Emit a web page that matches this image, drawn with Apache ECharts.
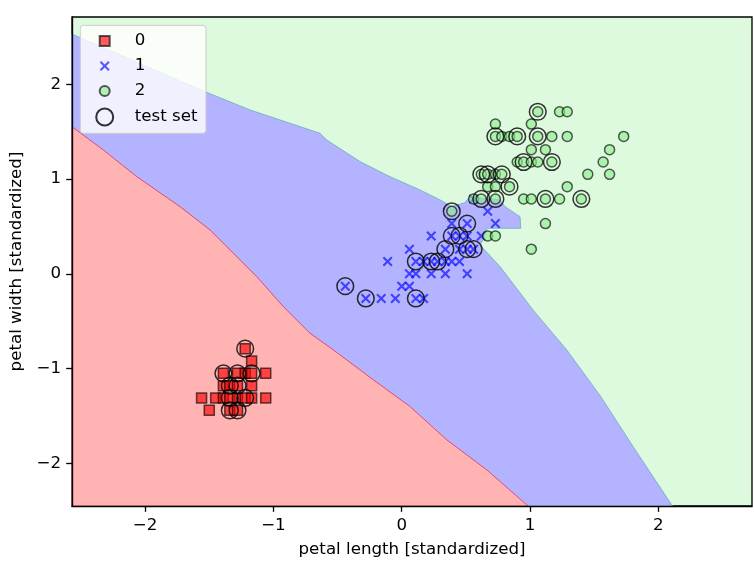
<!DOCTYPE html>
<html><head><meta charset="utf-8">
<script src="https://cdn.jsdelivr.net/npm/echarts@6/dist/echarts.min.js"></script>
<style>html,body{margin:0;padding:0;background:#fff}#c{width:754px;height:563px}</style>
</head><body><div id="c"></div>
<script>
// ---- data (standardized petal length, petal width) ----
const xTicks = [-2, -1, 0, 1, 2];
const yTicks = [-2, -1, 0, 1, 2];
const xRange = [-2.57, 2.73];
const yRange = [-2.45, 2.71];
const xName = 'petal length [standardized]';
const yName = 'petal width [standardized]';
const classNames = ['0', '1', '2'];
const testName = 'test set';

const class0 = [[-1.56,-1.31],[-1.50,-1.44],[-1.45,-1.31],[-1.39,-1.31],[-1.39,-1.18],[-1.39,-1.05],
  [-1.34,-1.44],[-1.34,-1.31],[-1.34,-1.18],[-1.28,-1.44],[-1.28,-1.31],[-1.28,-1.18],[-1.28,-1.05],
  [-1.22,-1.31],[-1.22,-1.05],[-1.22,-0.79],[-1.17,-1.31],[-1.17,-1.18],[-1.17,-1.05],[-1.17,-0.92],
  [-1.06,-1.31],[-1.06,-1.05]];
const class1 = [[-0.44,-0.13],[-0.28,-0.26],[-0.16,-0.26],[-0.11,0.13],[-0.05,-0.26],[0.00,-0.13],
  [0.06,-0.13],[0.06,0.00],[0.06,0.26],[0.11,-0.26],[0.11,0.00],[0.11,0.13],[0.17,-0.26],[0.17,0.13],
  [0.23,0.00],[0.23,0.13],[0.23,0.40],[0.28,0.13],[0.34,0.00],[0.34,0.13],[0.34,0.26],[0.39,0.13],
  [0.39,0.40],[0.39,0.53],[0.45,0.13],[0.45,0.26],[0.45,0.40],[0.51,0.00],[0.51,0.26],[0.51,0.40],
  [0.51,0.53],[0.56,0.26],[0.56,0.79],[0.62,0.40],[0.67,0.66],[0.73,0.53]];
const class2 = [[0.39,0.66],[0.56,0.79],[0.62,0.79],[0.62,1.05],[0.67,0.40],[0.67,0.92],[0.67,1.05],
  [0.73,0.40],[0.73,0.79],[0.73,0.92],[0.73,1.05],[0.73,1.45],[0.73,1.58],[0.78,1.05],[0.78,1.45],
  [0.84,0.92],[0.84,1.45],[0.90,1.18],[0.90,1.45],[0.95,0.79],[0.95,1.18],[1.01,0.26],[1.01,0.79],
  [1.01,1.18],[1.01,1.31],[1.01,1.58],[1.06,1.18],[1.06,1.45],[1.06,1.71],[1.12,0.53],[1.12,0.79],
  [1.12,1.31],[1.17,1.18],[1.17,1.45],[1.23,0.79],[1.23,1.71],[1.29,0.92],[1.29,1.45],[1.29,1.71],
  [1.40,0.79],[1.45,1.05],[1.57,1.18],[1.62,1.05],[1.62,1.31],[1.73,1.45]];
const testSet = [[-1.22,-0.79],[-1.39,-1.05],[-1.28,-1.05],[-1.17,-1.05],[-1.34,-1.18],[-1.28,-1.18],
  [-1.34,-1.31],[-1.22,-1.31],[-1.34,-1.44],[-1.28,-1.44],
  [-0.44,-0.13],[-0.28,-0.26],[0.11,-0.26],[0.11,0.13],[0.23,0.13],[0.28,0.13],[0.34,0.26],
  [0.39,0.40],[0.45,0.40],[0.51,0.53],[0.51,0.26],[0.56,0.26],
  [1.06,1.71],[0.73,1.45],[0.90,1.45],[1.06,1.45],[0.95,1.18],[1.17,1.18],[0.62,1.05],[0.67,1.05],
  [0.78,1.05],[0.84,0.92],[0.62,0.79],[0.73,0.79],[1.12,0.79],[1.40,0.79],[0.39,0.66]];

// decision regions (polygon vertices in data space)
const redRegion = [[-2.57,1.55],[-2.554,1.536],[-2.326,1.307],[-2.065,1.025],[-1.728,0.709],
  [-1.494,0.463],[-1.338,0.252],[-1.130,-0.030],[-0.923,-0.346],[-0.715,-0.627],[-0.533,-0.803],
  [-0.221,-1.119],[0.065,-1.401],[0.351,-1.752],[0.663,-2.069],[0.974,-2.438],[0.985,-2.45],[-2.57,-2.45]];
const blueRegion = [[-2.57,2.53],[-2.554,2.52],[-1.533,1.922],[-1.182,1.729],[-0.637,1.483],
  [-0.585,1.412],[-0.325,1.184],[-0.091,1.025],[0.142,0.885],[0.298,0.780],[0.39,0.71],[0.49,0.75],
  [0.53,0.81],[0.766,0.78],[0.805,0.709],[0.922,0.603],[0.928,0.481],[0.665,0.481],[0.634,0.358],
  [0.61,0.305],[0.766,0.076],[1.023,-0.381],[1.286,-0.803],[1.551,-1.295],[1.803,-1.823],
  [2.104,-2.438],[2.11,-2.45],[-2.57,-2.45]];

// ---- chart ----
const FONT = 'DejaVu Sans';
const FS = 16.67;
const minus = v => String(v).replace('-', '\u2212');
const xMark = 'path://M0,1.5L1.5,0L5,3.5L8.5,0L10,1.5L6.5,5L10,8.5L8.5,10L5,6.5L1.5,10L0,8.5L3.5,5Z';

function regionSeries(points, fill, stroke) {
  return {
    type: 'custom', silent: true, data: [[0, 0]], z: 1,
    renderItem: (params, api) => ({
      type: 'polygon',
      shape: { points: points.map(p => api.coord(p)) },
      style: { fill: fill, stroke: stroke, lineWidth: 1 }
    })
  };
}

const axisCommon = {
  type: 'value', z: 10,
  splitLine: { show: false },
  axisLine: { show: true, onZero: false, lineStyle: { color: '#000', width: 1.33 } },
  axisTick: { show: true, inside: false, length: 5.8, lineStyle: { color: '#000', width: 1.33 } },
  nameLocation: 'middle',
  nameTextStyle: { fontFamily: FONT, fontSize: FS, color: '#000' }
};

const chart = echarts.init(document.getElementById('c'), null, { renderer: 'canvas' });
chart.setOption({
  animation: false,
  backgroundColor: '#fff',
  grid: { left: 72, right: 2, top: 17, bottom: 57, show: true, backgroundColor: '#defade',
          borderColor: '#000', borderWidth: 1.33 },
  xAxis: Object.assign({}, axisCommon, {
    min: xRange[0], max: xRange[1], name: xName, nameGap: 35,
    axisTick: Object.assign({}, axisCommon.axisTick, { customValues: xTicks }),
    axisLabel: { customValues: xTicks, formatter: minus, margin: 11, fontFamily: FONT, fontSize: FS, color: '#000' }
  }),
  yAxis: Object.assign({}, axisCommon, {
    min: yRange[0], max: yRange[1], name: yName, nameGap: 39,
    axisTick: Object.assign({}, axisCommon.axisTick, { customValues: yTicks }),
    axisLabel: { customValues: yTicks, formatter: minus, margin: 11, fontFamily: FONT, fontSize: FS, color: '#000' }
  }),
  legend: [
    {
      data: [
        { name: classNames[0], icon: 'rect' },
        { name: classNames[1], icon: xMark },
        { name: classNames[2], icon: 'circle' }
      ],
      orient: 'vertical', left: 80.3, top: 25.3,
      itemWidth: 10, itemHeight: 10, itemGap: 8,
      padding: [7.2, 60.7, 33.8, 18.4],
      backgroundColor: 'rgba(255,255,255,0.8)', borderColor: '#cccccc', borderWidth: 1, borderRadius: 3,
      textStyle: { fontFamily: FONT, fontSize: FS, color: '#000', lineHeight: 17, padding: [0, 0, 0, 20] },
      selectedMode: false
    },
    {
      data: [{ name: testName, icon: 'circle' }],
      orient: 'vertical', left: 95.2, top: 107.5,
      itemWidth: 17, itemHeight: 17, padding: 0,
      textStyle: { fontFamily: FONT, fontSize: FS, color: '#000', lineHeight: 17, padding: [0, 0, 0, 16.5] },
      selectedMode: false
    }
  ],
  series: [
    regionSeries(blueRegion, '#b3b3ff', 'rgba(110,180,200,0.9)'),
    regionSeries(redRegion, '#ffb3b3', 'rgba(225,40,80,0.75)'),
    { type: 'scatter', name: classNames[0], data: class0, symbol: 'rect', symbolSize: 10, z: 3,
      itemStyle: { color: 'rgba(255,0,0,0.8)', borderColor: 'rgba(0,0,0,0.8)', borderWidth: 1.5 } },
    { type: 'scatter', name: classNames[1], data: class1, symbol: xMark, symbolSize: 10, z: 3,
      itemStyle: { color: 'rgba(0,0,255,0.8)', borderWidth: 0 } },
    { type: 'scatter', name: classNames[2], data: class2, symbol: 'circle', symbolSize: 10, z: 3,
      itemStyle: { color: 'rgba(144,238,144,0.8)', borderColor: 'rgba(0,0,0,0.8)', borderWidth: 1.5 } },
    { type: 'scatter', name: testName, data: testSet, symbol: 'circle', symbolSize: 16.7, z: 4,
      itemStyle: { color: 'rgba(0,0,0,0)', borderColor: '#000', borderWidth: 1.5 } }
  ]
});
</script></body></html>
